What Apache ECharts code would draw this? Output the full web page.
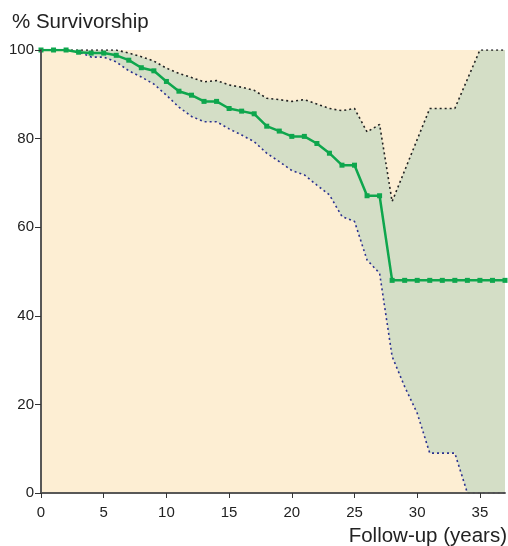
<!DOCTYPE html>
<html>
<head>
<meta charset="utf-8">
<script src="https://cdn.jsdelivr.net/npm/echarts@6/dist/echarts.min.js"></script>
<style>
  html, body { margin: 0; padding: 0; background: #fff; }
  #chart { width: 508px; height: 546px; }
</style>
</head>
<body>
<div id="chart"></div>
<script>
  // survival estimate, one point per year of follow-up
  const years = [0, 1, 2, 3, 4, 5, 6, 7, 8, 9, 10, 11, 12, 13, 14, 15, 16, 17, 18, 19,
    20, 21, 22, 23, 24, 25, 26, 27, 28, 29, 30, 31, 32, 33, 34, 35, 36, 37];
  const survival = [100, 100, 100, 99.5, 99.3, 99.3, 98.8, 97.7, 96.0, 95.3, 92.9, 90.7, 89.8,
    88.4, 88.4, 86.8, 86.2, 85.6, 82.8, 81.7, 80.5, 80.5, 78.9, 76.7, 74.0, 74.0, 67.1, 67.1,
    48, 48, 48, 48, 48, 48, 48, 48, 48, 48];

  // upper confidence limit (break points)
  const upperYears = [0, 6, 7, 8, 9, 10, 11, 12, 13, 14, 15, 16, 17, 18, 19, 20, 21, 22, 23,
    24, 25, 26, 27, 28, 31, 33, 35, 37];
  const upperCI = [100, 100, 99.3, 98.5, 97.5, 95.9, 94.7, 93.8, 92.8, 93.1, 92.1, 91.6, 90.9,
    89.1, 88.8, 88.4, 88.8, 87.8, 86.8, 86.3, 86.8, 81.5, 83.2, 65.8, 86.8, 86.8, 100, 100];

  // lower confidence limit (break points)
  const lowerYears = [0, 2, 3, 4, 5, 6, 7, 8, 9, 10, 11, 12, 13, 14, 15, 16, 17, 18, 19, 20,
    21, 22, 23, 24, 25, 26, 27, 28, 29, 30, 31, 33, 34, 37];
  const lowerCI = [100, 100, 99.6, 98.4, 98.4, 97.3, 95.3, 93.9, 92.3, 89.8, 87.1, 85.0, 83.8,
    83.8, 82.2, 80.8, 79.3, 76.7, 74.8, 72.8, 71.8, 69.5, 67.3, 62.4, 61.3, 52.6, 49.6, 30.8,
    24, 18, 9, 9, 0, 0];

  const yTicks = [0, 20, 40, 60, 80, 100];

  const pairs = (xs, ys) => xs.map((x, i) => [x, ys[i]]);

  const beige = '#fdeed3';
  const band = '#d4dec6';
  const green = '#0ea64d';
  const font = '"Liberation Sans", Arial, Helvetica, sans-serif';

  const config = {
    animation: false,
    textStyle: { fontFamily: font },
    title: {
      text: '% Survivorship',
      left: 12,
      top: 12,
      padding: 0,
      textStyle: { fontSize: 20.5, fontWeight: 'normal', color: '#222', fontFamily: font },
    },
    graphic: [
      {
        type: 'text',
        right: 1,
        top: 526,
        style: { text: 'Follow-up (years)', fontSize: 20.5, fill: '#222', fontFamily: font },
      },
    ],
    grid: {
      left: 41,
      right: 3,
      top: 50,
      bottom: 53,
      show: true,
      backgroundColor: beige,
      borderWidth: 0,
    },
    xAxis: [
      {
        type: 'value',
        min: 0,
        max: 37,
        interval: 5,
        z: 10,
        splitLine: { show: false },
        axisLine: { lineStyle: { color: '#333', width: 1.5 } },
        axisTick: { length: 5, lineStyle: { color: '#333' } },
        axisLabel: { fontSize: 15, color: '#222', margin: 12, showMaxLabel: false },
      },
      {
        type: 'value',
        position: 'top',
        min: 0,
        max: 37,
        z: 10,
        splitLine: { show: false },
        axisLine: { show: true, lineStyle: { color: '#555', width: 1.5 } },
        axisTick: { show: false },
        axisLabel: { show: false },
      },
    ],
    yAxis: [
      {
        type: 'value',
        min: 0,
        max: 100,
        interval: 20,
        z: 10,
        splitLine: { show: false },
        axisLine: { show: true, lineStyle: { color: '#333', width: 1.5 } },
        axisTick: { show: true, length: 6, lineStyle: { color: '#333' } },
        axisLabel: {
          fontSize: 15,
          color: '#222',
          margin: 7,
          formatter: (v) => (yTicks.includes(v) ? String(v) : ''),
        },
      },
      {
        type: 'value',
        position: 'right',
        min: 0,
        max: 100,
        z: 10,
        splitLine: { show: false },
        axisLine: { show: true, lineStyle: { color: '#555', width: 1.5 } },
        axisTick: { show: false },
        axisLabel: { show: false },
      },
    ],
    series: [
      {
        name: 'upperArea',
        type: 'line',
        data: pairs(upperYears, upperCI),
        symbol: 'none',
        lineStyle: { width: 0 },
        areaStyle: { color: band, opacity: 1, origin: 'start' },
        z: 1,
        silent: true,
      },
      {
        name: 'lowerArea',
        type: 'line',
        data: pairs(lowerYears, lowerCI),
        symbol: 'none',
        lineStyle: { width: 0 },
        areaStyle: { color: beige, opacity: 1, origin: 'start' },
        z: 2,
        silent: true,
      },
      {
        name: 'upper',
        type: 'line',
        data: pairs(upperYears, upperCI),
        symbol: 'none',
        lineStyle: { color: '#222', width: 1.6, type: [2, 3] },
        z: 3,
      },
      {
        name: 'lower',
        type: 'line',
        data: pairs(lowerYears, lowerCI),
        symbol: 'none',
        lineStyle: { color: '#2b3190', width: 1.6, type: [2, 3] },
        z: 3,
      },
      {
        name: 'survival',
        type: 'line',
        data: pairs(years, survival),
        symbol: 'rect',
        symbolSize: 5,
        itemStyle: { color: green },
        lineStyle: { color: green, width: 2.5 },
        z: 4,
      },
    ],
  };

  const chart = echarts.init(document.getElementById('chart'));
  chart.setOption(config);
</script>
</body>
</html>
